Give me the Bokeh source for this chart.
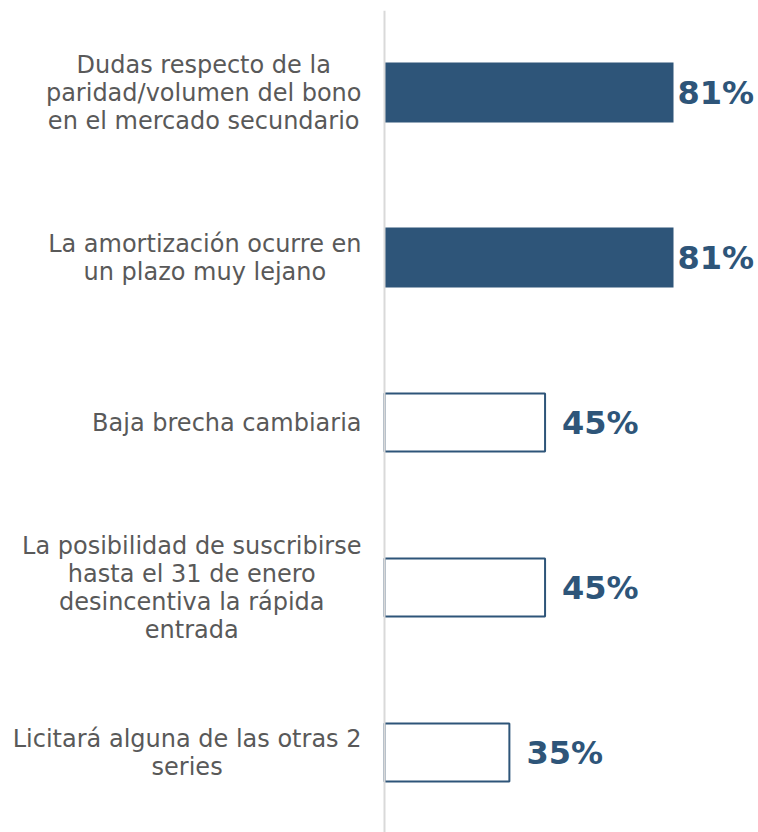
from bokeh.plotting import figure
from bokeh.models import ColumnDataSource, Range1d, Span
from bokeh.core.properties import value
from bokeh.embed import file_html
from bokeh.resources import INLINE

# ---- data ----
categories = [
    "Dudas respecto de la\nparidad/volumen del bono\nen el mercado secundario",
    "La amortización ocurre en\nun plazo muy lejano",
    "Baja brecha cambiaria",
    "La posibilidad de suscribirse\nhasta el 31 de enero\ndesincentiva la rápida\nentrada",
    "Licitará alguna de las otras 2\nseries",
]
values = [81, 81, 45, 45, 35]
highlighted = [True, True, False, False, False]
value_labels = [f"{v}%" for v in values]

# ---- layout ----
W, H = 758, 832
TOP = 10
FRAME_H = H - TOP
PX_PER_PCT = 3.568
ZERO_PX = 384
ROW_PITCH = 165
FIRST_ROW_PX = 82  # within frame
BAR_PX = 60

BLUE = "#2E5579"
GRAY_TXT = "#595959"

idx = list(range(len(categories)))

p = figure(
    width=W, height=H,
    x_range=Range1d(-ZERO_PX / PX_PER_PCT, (W - ZERO_PX) / PX_PER_PCT),
    y_range=Range1d((FRAME_H - FIRST_ROW_PX) / ROW_PITCH, -FIRST_ROW_PX / ROW_PITCH),
    output_backend="svg", toolbar_location=None, tools="",
    min_border=0, min_border_left=0, min_border_right=0,
    min_border_top=TOP, min_border_bottom=0,
)
p.xaxis.visible = False
p.yaxis.visible = False
p.xgrid.visible = False
p.ygrid.visible = False
p.outline_line_color = None
p.background_fill_color = "white"
p.border_fill_color = "white"

filled = ColumnDataSource(dict(
    y=[i for i, h in zip(idx, highlighted) if h],
    v=[v for v, h in zip(values, highlighted) if h],
))
hollow = ColumnDataSource(dict(
    y=[i for i, h in zip(idx, highlighted) if not h],
    v=[v for v, h in zip(values, highlighted) if not h],
))

bar_h = BAR_PX / ROW_PITCH
p.hbar(y="y", left=0, right="v", height=bar_h, source=filled,
       fill_color=BLUE, line_color=None)
p.hbar(y="y", left=0, right="v", height=bar_h - 2 / ROW_PITCH, source=hollow,
       fill_color="white", line_color=BLUE, line_width=2)

# category labels
p.text(x=[0] * len(idx), y=idx, text=categories,
       x_offset=-23, anchor="center_right", text_align="center",
       text_baseline="middle",
       text_font=value("DejaVu Sans"), text_font_size="24px",
       text_color=GRAY_TXT, text_line_height=1.0)

# value labels
offsets = [4 if v > 70 else 17 for v in values]
src_lbl = ColumnDataSource(dict(x=values, y=idx, t=value_labels, o=offsets))
p.text(x="x", y="y", text="t", x_offset="o", source=src_lbl,
       text_align="left", text_baseline="middle",
       text_font=value("DejaVu Sans"), text_font_style="bold",
       text_font_size="32px", text_color=BLUE)

p.add_layout(Span(location=0, dimension="height", line_color="#D9D9D9",
                  line_width=2))

open("out.html", "w").write(file_html(p, INLINE))
